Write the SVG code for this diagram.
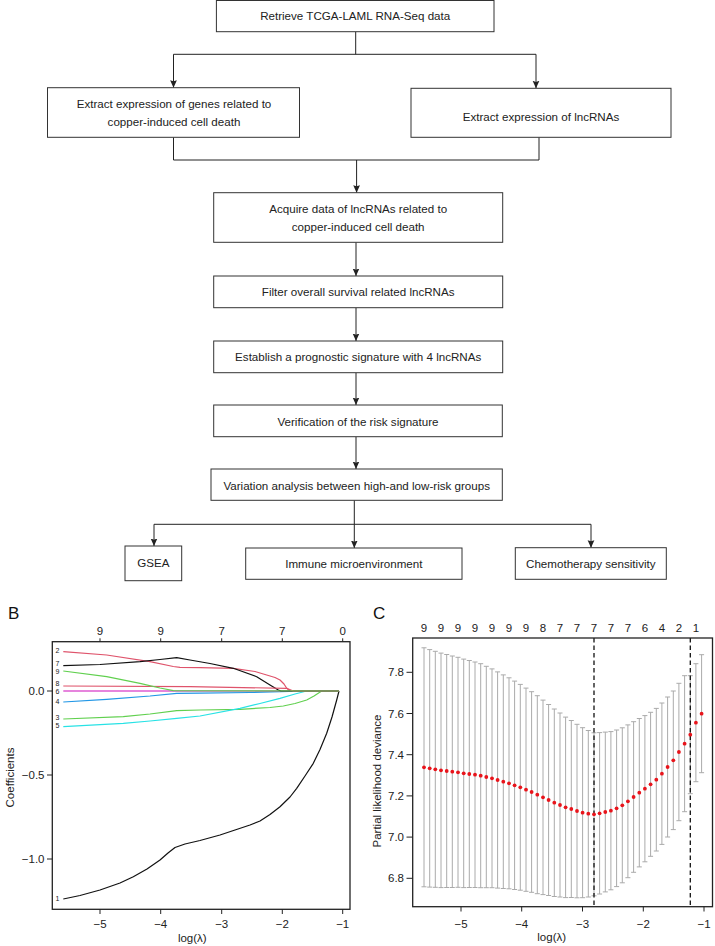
<svg xmlns="http://www.w3.org/2000/svg" width="715" height="946" viewBox="0 0 715 946">
<defs>
<style>
.box{fill:#fff;stroke:#333;stroke-width:1}
.ft{font-family:"Liberation Sans",Arial,sans-serif;font-size:11.6px;fill:#222;text-anchor:middle}
.con{fill:none;stroke:#222;stroke-width:1}
.arr{marker-end:url(#ah)}
.ax{font-family:"Liberation Sans",Arial,sans-serif;font-size:11.5px;fill:#222}
.mid{text-anchor:middle}
.end{text-anchor:end}
.frame{fill:none;stroke:#222;stroke-width:1.3}
.tk{stroke:#222;stroke-width:1;fill:none}
.cv{fill:none;stroke-width:1.2;stroke-linejoin:round}
.lb{font-family:"Liberation Sans",Arial,sans-serif;font-size:7px;fill:#222;text-anchor:middle}
.eb{fill:none;stroke:#aaa;stroke-width:1}
.dot{fill:#e8141b}
.dash{stroke:#111;stroke-width:1.3;stroke-dasharray:4.5,3}
</style>
<marker id="ah" viewBox="0 0 10 10" refX="10" refY="5" markerWidth="7.5" markerHeight="7.5" orient="auto" markerUnits="userSpaceOnUse">
<path d="M0,0.5 L10,5 L0,9.5 L1.5,5 z" fill="#222"/>
</marker>
</defs>
<rect width="715" height="946" fill="#fff"/>

<g id="connectors">
<path class="con" d="M355.7,31.7 V54.3 M173.5,54.3 H536"/>
<path class="con arr" d="M173.5,54.3 V87.7"/>
<path class="con arr" d="M536,54.3 V88.3"/>
<path class="con" d="M173.5,137.3 V160 H539 V137.3"/>
<path class="con arr" d="M356.6,160 V192.7"/>
<path class="con arr" d="M356,242.3 V276"/>
<path class="con arr" d="M356,307.7 V341"/>
<path class="con arr" d="M356,372.7 V405"/>
<path class="con arr" d="M356,436.7 V469"/>
<path class="con" d="M354.3,500.3 V524.3 M154,524.3 H591"/>
<path class="con arr" d="M154,524.3 V546"/>
<path class="con arr" d="M354.3,524.3 V548"/>
<path class="con arr" d="M591,524.3 V547.7"/>
</g>

<g id="n1"><rect class="box" x="216.4" y="0.5" width="277.6" height="31.2"/><text class="ft" x="355.2" y="20.3">Retrieve TCGA-LAML RNA-Seq data</text></g>
<g id="n2"><rect class="box" x="47.5" y="87.7" width="252" height="49.6"/><text class="ft" x="174" y="108">Extract expression of genes related to</text><text class="ft" x="174" y="126">copper-induced cell death</text></g>
<g id="n3"><rect class="box" x="411" y="88.3" width="260" height="49"/><text class="ft" x="541" y="120.7">Extract expression of lncRNAs</text></g>
<g id="n4"><rect class="box" x="213.7" y="192.7" width="289" height="49.6"/><text class="ft" x="358.2" y="213">Acquire data of lncRNAs related to</text><text class="ft" x="358.2" y="231">copper-induced cell death</text></g>
<g id="n5"><rect class="box" x="213.7" y="276" width="289" height="31.7"/><text class="ft" x="358.2" y="296.3">Filter overall survival related lncRNAs</text></g>
<g id="n6"><rect class="box" x="213.7" y="341" width="289" height="31.7"/><text class="ft" x="358.2" y="360.7">Establish a prognostic signature with 4 lncRNAs</text></g>
<g id="n7"><rect class="box" x="213.7" y="405" width="288.6" height="31.7"/><text class="ft" x="358" y="425.7">Verification of the risk signature</text></g>
<g id="n8"><rect class="box" x="211" y="469" width="291.3" height="31.3"/><text class="ft" x="356.7" y="489.7">Variation analysis between high-and low-risk groups</text></g>
<g id="n9"><rect class="box" x="125" y="546" width="56.7" height="34.7"/><text class="ft" x="153.3" y="567">GSEA</text></g>
<g id="n10"><rect class="box" x="245.7" y="548" width="216.3" height="31.3"/><text class="ft" x="353.8" y="567.7">Immune microenvironment</text></g>
<g id="n11"><rect class="box" x="515.3" y="547.7" width="151" height="31.6"/><text class="ft" x="590.8" y="568">Chemotherapy sensitivity</text></g>

<g id="panelB">
<text x="8" y="619" font-family="'Liberation Sans',Arial,sans-serif" font-size="17" fill="#111">B</text>
<rect class="frame" x="52.3" y="641.7" width="297.7" height="267.6"/>
<path class="tk" d="M100,641.7V638.3M160.7,641.7V638.3M221.7,641.7V638.3M282.3,641.7V638.3M342.7,641.7V638.3"/>
<text class="ax mid" x="100" y="635">9</text><text class="ax mid" x="160.7" y="635">9</text><text class="ax mid" x="221.7" y="635">7</text><text class="ax mid" x="282.3" y="635">7</text><text class="ax mid" x="342.7" y="635">0</text>
<path class="tk" d="M100,909.3V914M160.7,909.3V914M221.7,909.3V914M282.3,909.3V914M342.7,909.3V914"/>
<text class="ax mid" x="100" y="928">−5</text><text class="ax mid" x="160.7" y="928">−4</text><text class="ax mid" x="221.7" y="928">−3</text><text class="ax mid" x="282.3" y="928">−2</text><text class="ax mid" x="342.7" y="928">−1</text>
<text class="ax mid" x="192.3" y="942">log(λ)</text>
<path class="tk" d="M52.3,691H47M52.3,775H47M52.3,859H47"/>
<text class="ax end" x="44.5" y="695">0.0</text><text class="ax end" x="44.5" y="779">−0.5</text><text class="ax end" x="44.5" y="863">−1.0</text>
<text class="ax mid" transform="translate(13.5,777.5) rotate(-90)">Coefficients</text>
<g id="coefpaths">
<polyline class="cv" stroke="#111" points="63.3,899 80,895.5 100,890 120,883 133.3,876.7 147,869 160,860 168,853 175,847.5 185,844 200,840.5 220,835 235,830 250,825 260,821 270,814.5 280,806.7 290,797 296.7,788.3 305,776 313.3,763.3 320,749.5 326.7,733.3 332,717 336.7,700 339,691"/>
<polyline class="cv" stroke="#DF536B" points="63.3,651.7 106.7,655 150,661.7 173.3,666.5 180,667.3 200,667.7 233.3,668.3 255,671.5 266.7,675 275,677.5 280,680 284,684 286.7,688.3 290,691 339,691"/>
<polyline class="cv" stroke="#61D04F" points="63.3,719 123.3,716.7 150,714 176.7,710.7 200,710 240,709.3 270,707.5 283.3,706 295,703.5 306.7,700 314,696 321.7,691 339,691"/>
<polyline class="cv" stroke="#2297E6" points="63.3,702 106.7,699.3 150,696 176.7,693.3 200,693.2 250,692.5 306.7,691 339,691"/>
<polyline class="cv" stroke="#28E2E5" points="63.3,726.7 123.3,723.3 150,721 176.7,718.3 200,716 240,708.3 260,703.5 280,698.3 295,694 306.7,691 339,691"/>
<polyline class="cv" stroke="#CD0BBC" points="63.3,691 339,691"/>
<polyline class="cv" stroke="#111" points="63.3,665.7 100,664.5 140,661.7 160,659.5 176.7,657.7 190,660 210,663.5 233.3,668.3 256.7,676.7 270,685 278.3,690 281,691 339,691"/>
<polyline class="cv" stroke="#DF536B" points="63.3,686 190,686.7 286.7,688.3 293.3,691 339,691"/>
<polyline class="cv" stroke="#61D04F" points="63.3,671 106.7,676.7 140,683.3 160,688 173.3,690.7 339,691"/>
</g>
<text class="lb" x="57.5" y="653.3">2</text><text class="lb" x="57.5" y="665.5">7</text><text class="lb" x="57.5" y="673.6">9</text><text class="lb" x="57.5" y="685.5">8</text><text class="lb" x="57.5" y="693.6">6</text><text class="lb" x="57.5" y="703.7">4</text><text class="lb" x="57.5" y="719.7">3</text><text class="lb" x="57.5" y="728.3">5</text><text class="lb" x="57.5" y="901.3">1</text>
</g>

<g id="panelC">
<text x="373" y="619" font-family="'Liberation Sans',Arial,sans-serif" font-size="17" fill="#111">C</text>
<g font-family="'Liberation Sans',Arial,sans-serif" font-size="11.5" fill="#222" text-anchor="middle">
<text x="424" y="631.7">9</text><text x="441" y="631.7">9</text><text x="458" y="631.7">9</text><text x="475" y="631.7">9</text><text x="492" y="631.7">9</text><text x="509" y="631.7">9</text><text x="526" y="631.7">9</text><text x="543" y="631.7">8</text><text x="560" y="631.7">7</text><text x="577" y="631.7">7</text><text x="594" y="631.7">7</text><text x="611" y="631.7">7</text><text x="628" y="631.7">7</text><text x="645" y="631.7">6</text><text x="662" y="631.7">4</text><text x="679" y="631.7">2</text><text x="696" y="631.7">1</text>
</g>
<path class="eb" d="M424,647.8V886.8M421.5,647.8h5M421.5,886.8h5M429.7,649.6V887.1M427.2,649.6h5M427.2,887.1h5M435.3,651.3V887.3M432.8,651.3h5M432.8,887.3h5M441,653.1V887.6M438.5,653.1h5M438.5,887.6h5M446.7,654.5V887.5M444.2,654.5h5M444.2,887.5h5M452.3,656V887.5M449.8,656h5M449.8,887.5h5M458,657.3V887.3M455.5,657.3h5M455.5,887.3h5M463.7,659.1V887.6M461.2,659.1h5M461.2,887.6h5M469.3,660.5V887.5M466.8,660.5h5M466.8,887.5h5M475,662V887.5M472.5,662h5M472.5,887.5h5M480.7,663.7V887.7M478.2,663.7h5M478.2,887.7h5M486.3,666.3V887.7M483.8,666.3h5M483.8,887.7h5M492,668.9V887.7M489.5,668.9h5M489.5,887.7h5M497.6,671.9V888.1M495.1,671.9h5M495.1,888.1h5M503.3,674.9V888.5M500.8,674.9h5M500.8,888.5h5M509,677.8V888.8M506.5,677.8h5M506.5,888.8h5M514.6,681.1V889.5M512.1,681.1h5M512.1,889.5h5M520.3,684.4V890.2M517.8,684.4h5M517.8,890.2h5M526,688.1V891.3M523.5,688.1h5M523.5,891.3h5M531.6,691.7V892.3M529.1,691.7h5M529.1,892.3h5M537.3,695.7V893.7M534.8,695.7h5M534.8,893.7h5M543,700.1V894.6M540.5,700.1h5M540.5,894.6h5M548.6,704.5V895.5M546.1,704.5h5M546.1,895.5h5M554.3,709V896.5M551.8,709h5M551.8,896.5h5M560,713V897M557.5,713h5M557.5,897h5M565.6,717.1V897.6M563.1,717.1h5M563.1,897.6h5M571.3,720.5V897.5M568.8,720.5h5M568.8,897.5h5M577,724.3V897.8M574.5,724.3h5M574.5,897.8h5M582.6,727.7V897.7M580.1,727.7h5M580.1,897.7h5M588.3,730.5V897M585.8,730.5h5M585.8,897h5M594,732.8V895.8M591.5,732.8h5M591.5,895.8h5M599.6,732.6V894M597.1,732.6h5M597.1,894h5M605.3,732.1V891.9M602.8,732.1h5M602.8,891.9h5M610.9,731.6V889.8M608.4,731.6h5M608.4,889.8h5M616.6,730V886.6M614.1,730h5M614.1,886.6h5M622.3,727.8V882.8M619.8,727.8h5M619.8,882.8h5M627.9,724.9V877.7M625.4,724.9h5M625.4,877.7h5M633.6,721.7V872.3M631.1,721.7h5M631.1,872.3h5M639.3,718.5V866.9M636.8,718.5h5M636.8,866.9h5M644.9,715.6V861.8M642.4,715.6h5M642.4,861.8h5M650.6,712.3V856.3M648.1,712.3h5M648.1,856.3h5M656.3,708.4V851M653.8,708.4h5M653.8,851h5M661.9,703V844.4M659.4,703h5M659.4,844.4h5M667.6,697V837M665.1,697h5M665.1,837h5M673.3,691V829.6M670.8,691h5M670.8,829.6h5M678.9,683.3V820.7M676.4,683.3h5M676.4,820.7h5M684.6,675.7V811.7M682.1,675.7h5M682.1,811.7h5M690.3,675.7V793.7M687.8,675.7h5M687.8,793.7h5M695.9,663.7V781.7M693.4,663.7h5M693.4,781.7h5M701.6,654.7V772.7M699.1,654.7h5M699.1,772.7h5"/>
<path class="dash" d="M594,638V906.7M690.3,638V906.7"/>
<g class="dots">
<circle class="dot" cx="424" cy="767.3" r="1.9"/><circle class="dot" cx="429.7" cy="768.3" r="1.9"/><circle class="dot" cx="435.3" cy="769.3" r="1.9"/><circle class="dot" cx="441" cy="770.3" r="1.9"/><circle class="dot" cx="446.7" cy="771" r="1.9"/><circle class="dot" cx="452.3" cy="771.7" r="1.9"/><circle class="dot" cx="458" cy="772.3" r="1.9"/><circle class="dot" cx="463.7" cy="773.3" r="1.9"/><circle class="dot" cx="469.3" cy="774" r="1.9"/><circle class="dot" cx="475" cy="774.7" r="1.9"/>
<circle class="dot" cx="480.7" cy="775.7" r="1.9"/><circle class="dot" cx="486.3" cy="777" r="1.9"/><circle class="dot" cx="492" cy="778.3" r="1.9"/><circle class="dot" cx="497.6" cy="780" r="1.9"/><circle class="dot" cx="503.3" cy="781.7" r="1.9"/><circle class="dot" cx="509" cy="783.3" r="1.9"/><circle class="dot" cx="514.6" cy="785.3" r="1.9"/><circle class="dot" cx="520.3" cy="787.3" r="1.9"/><circle class="dot" cx="526" cy="789.7" r="1.9"/><circle class="dot" cx="531.6" cy="792" r="1.9"/>
<circle class="dot" cx="537.3" cy="794.7" r="1.9"/><circle class="dot" cx="543" cy="797.3" r="1.9"/><circle class="dot" cx="548.6" cy="800" r="1.9"/><circle class="dot" cx="554.3" cy="802.7" r="1.9"/><circle class="dot" cx="560" cy="805" r="1.9"/><circle class="dot" cx="565.6" cy="807.3" r="1.9"/><circle class="dot" cx="571.3" cy="809" r="1.9"/><circle class="dot" cx="577" cy="811" r="1.9"/><circle class="dot" cx="582.6" cy="812.7" r="1.9"/><circle class="dot" cx="588.3" cy="813.7" r="1.9"/>
<circle class="dot" cx="594" cy="814.3" r="1.9"/><circle class="dot" cx="599.6" cy="813.3" r="1.9"/><circle class="dot" cx="605.3" cy="812" r="1.9"/><circle class="dot" cx="610.9" cy="810.7" r="1.9"/><circle class="dot" cx="616.6" cy="808.3" r="1.9"/><circle class="dot" cx="622.3" cy="805.3" r="1.9"/><circle class="dot" cx="627.9" cy="801.3" r="1.9"/><circle class="dot" cx="633.6" cy="797" r="1.9"/><circle class="dot" cx="639.3" cy="792.7" r="1.9"/><circle class="dot" cx="644.9" cy="788.7" r="1.9"/>
<circle class="dot" cx="650.6" cy="784.3" r="1.9"/><circle class="dot" cx="656.3" cy="779.7" r="1.9"/><circle class="dot" cx="661.9" cy="773.7" r="1.9"/><circle class="dot" cx="667.6" cy="767" r="1.9"/><circle class="dot" cx="673.3" cy="760.3" r="1.9"/><circle class="dot" cx="678.9" cy="752" r="1.9"/><circle class="dot" cx="684.6" cy="743.7" r="1.9"/><circle class="dot" cx="690.3" cy="734.7" r="1.9"/><circle class="dot" cx="695.9" cy="722.7" r="1.9"/><circle class="dot" cx="701.6" cy="713.7" r="1.9"/>
</g>
<rect class="frame" x="412.7" y="638" width="299.8" height="268.7"/>
<path class="tk" d="M412.7,672.3H406.5M412.7,713.5H406.5M412.7,754.7H406.5M412.7,795.9H406.5M412.7,837.1H406.5M412.7,878.3H406.5"/>
<text class="ax end" x="404" y="676.3">7.8</text><text class="ax end" x="404" y="717.5">7.6</text><text class="ax end" x="404" y="758.7">7.4</text><text class="ax end" x="404" y="799.9">7.2</text><text class="ax end" x="404" y="841.1">7.0</text><text class="ax end" x="404" y="882.3">6.8</text>
<path class="tk" d="M461,906.7V911.5M521.7,906.7V911.5M582.5,906.7V911.5M643.3,906.7V911.5M704,906.7V911.5"/>
<text class="ax mid" x="461" y="928">−5</text><text class="ax mid" x="521.7" y="928">−4</text><text class="ax mid" x="582.5" y="928">−3</text><text class="ax mid" x="643.3" y="928">−2</text><text class="ax mid" x="704" y="928">−1</text>
<text class="ax mid" x="551.7" y="941">log(λ)</text>
<text class="ax mid" transform="translate(381,781) rotate(-90)">Partial likelihood deviance</text>
</g>
</svg>
